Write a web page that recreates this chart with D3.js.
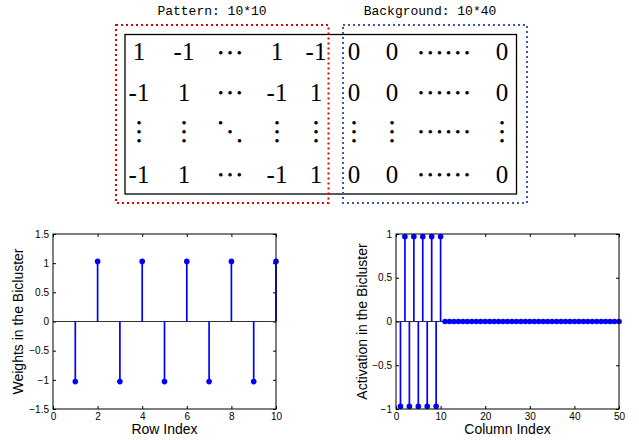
<!DOCTYPE html>
<html>
<head>
<meta charset="utf-8">
<script src="https://cdn.jsdelivr.net/npm/d3@7"></script>
<style>body{margin:0;background:#fff}</style>
</head>
<body>
<div id="chart"></div>
<script>
const width = 639, height = 440;

// top schematic: matrix entries ("h3"/"h6" = horizontal dots, "v" = vertical dots, "d" = diagonal dots)
const patternTitle = "Pattern: 10*10";
const backgroundTitle = "Background: 10*40";
const patternRows = [
  ["1", "-1", "h3", "1", "-1"],
  ["-1", "1", "h3", "-1", "1"],
  ["v", "v", "d", "v", "v"],
  ["-1", "1", "h3", "-1", "1"]
];
const backgroundRows = [
  ["0", "0", "h6", "0"],
  ["0", "0", "h6", "0"],
  ["v", "v", "h6", "v"],
  ["0", "0", "h6", "0"]
];

// bottom left: row weights
const rowWeights = [-1.03, 1.03, -1.03, 1.03, -1.03, 1.03, -1.03, 1.03, -1.03, 1.03];
const rowTicksX = [0, 2, 4, 6, 8, 10];
const rowTicksY = [-1.5, -1, -0.5, 0, 0.5, 1, 1.5];

// bottom right: column activations
const colActivation = [
  -0.97, 0.97, -0.97, 0.97, -0.97, 0.97, -0.97, 0.97, -0.97, 0.97,
  0, 0, 0, 0, 0, 0, 0, 0, 0, 0,
  0, 0, 0, 0, 0, 0, 0, 0, 0, 0,
  0, 0, 0, 0, 0, 0, 0, 0, 0, 0,
  0, 0, 0, 0, 0, 0, 0, 0, 0, 0
];
const colTicksX = [0, 10, 20, 30, 40, 50];
const colTicksY = [-1, -0.5, 0, 0.5, 1];

const svg = d3.select("#chart")
  .append("svg")
  .attr("width", width)
  .attr("height", height);

/* ---------- matrix schematic ---------- */
const mono = "'Liberation Mono', 'DejaVu Sans Mono', monospace";
const serif = "'Liberation Serif', 'Times New Roman', serif";

svg.append("text").attr("x", 212).attr("y", 15)
  .attr("text-anchor", "middle").attr("font-family", mono).attr("font-size", 13)
  .text(patternTitle);
svg.append("text").attr("x", 430).attr("y", 15)
  .attr("text-anchor", "middle").attr("font-family", mono).attr("font-size", 13)
  .text(backgroundTitle);

svg.append("rect").attr("x", 125).attr("y", 34.5).attr("width", 391.5).attr("height", 159.5)
  .attr("fill", "none").attr("stroke", "#000").attr("stroke-width", 1.3);
svg.append("rect").attr("x", 116).attr("y", 25).attr("width", 212.5).attr("height", 178)
  .attr("fill", "none").attr("stroke", "#e00000").attr("stroke-width", 2)
  .attr("stroke-dasharray", "2,3");
svg.append("rect").attr("x", 343).attr("y", 25).attr("width", 184).attr("height", 178)
  .attr("fill", "none").attr("stroke", "#3a5ba6").attr("stroke-width", 2)
  .attr("stroke-dasharray", "2,3");

const rowBase = [60, 100.5, 131.5, 182.5];   // baselines (row 3 = centre of dots)
const patternX = [139, 184, 230, 277, 316];
const backgroundX = [354, 392, 444, 502];
const mat = svg.append("g").attr("font-family", serif).attr("font-size", 25);

// one small round glyph per dot
function dots(pts) {
  const t = mat.append("text").attr("text-anchor", "middle")
    .attr("font-family", "'DejaVu Sans', sans-serif").attr("font-size", 4.6);
  pts.forEach(p => t.append("tspan").attr("x", p[0]).attr("y", p[1] + 1.7).text("\u25cf"));
}

function drawEntry(s, x, r) {
  const y = rowBase[r];
  if (s === "h3" || s === "h6") {
    const n = s === "h3" ? 3 : 6;
    const cy = r === 2 ? y : y - 8;
    dots(d3.range(n).map(k => [x + (k - (n - 1) / 2) * 9.2, cy]));
  } else if (s === "v") {
    dots([-1, 0, 1].map(k => [x, y + k * 9]));
  } else if (s === "d") {
    dots([-1, 0, 1].map(k => [x + k * 9.5, y + k * 9]));
  } else {
    mat.append("text").attr("x", x).attr("y", y).attr("text-anchor", "middle").text(s);
  }
}

patternRows.forEach((row, r) => row.forEach((s, c) => drawEntry(s, patternX[c], r)));
backgroundRows.forEach((row, r) => row.forEach((s, c) => drawEntry(s, backgroundX[c], r)));

/* ---------- stem plots ---------- */
const sans = "'Liberation Sans', Arial, Helvetica, sans-serif";
const fmt = d3.format("");

function stemPlot(opt) {
  const g = svg.append("g");
  const x = d3.scaleLinear().domain(opt.xDomain).range([opt.left, opt.right]);
  const y = d3.scaleLinear().domain(opt.yDomain).range([opt.bottom, opt.top]);

  const axes = [
    [d3.axisBottom(x).tickValues(opt.xTicks).tickFormat(fmt), opt.bottom, "x"],
    [d3.axisTop(x).tickValues(opt.xTicks).tickFormat(""), opt.top, "x"],
    [d3.axisLeft(y).tickValues(opt.yTicks).tickFormat(fmt), opt.left, "y"],
    [d3.axisRight(y).tickValues(opt.yTicks).tickFormat(""), opt.right, "y"]
  ];
  axes.forEach(([ax, pos, dir]) => {
    const a = g.append("g")
      .attr("transform", dir === "x" ? "translate(0," + pos + ")" : "translate(" + pos + ",0)")
      .call(ax.tickSizeInner(-3).tickSizeOuter(0).tickPadding(4));
    a.select(".domain").remove();
    a.attr("font-family", sans).attr("font-size", 10);
    a.selectAll("line").attr("stroke", "#000");
    a.selectAll("text").attr("fill", "#000");
  });

  // baseline
  g.append("line")
    .attr("x1", opt.left).attr("x2", opt.right)
    .attr("y1", y(0)).attr("y2", y(0))
    .attr("stroke", "#333").attr("stroke-width", 1.2);

  g.selectAll(".stem")
    .data(opt.values)
    .enter()
    .append("line")
    .attr("class", "stem")
    .attr("x1", (d, i) => x(i + 1)).attr("x2", (d, i) => x(i + 1))
    .attr("y1", y(0)).attr("y2", d => y(d))
    .attr("stroke", "#0000ff").attr("stroke-width", 1.7);

  g.selectAll(".mark")
    .data(opt.values)
    .enter()
    .append("circle")
    .attr("class", "mark")
    .attr("cx", (d, i) => x(i + 1))
    .attr("cy", d => y(d))
    .attr("r", 2.8)
    .attr("fill", "#0000ff");

  g.append("rect")
    .attr("x", opt.left).attr("y", opt.top)
    .attr("width", opt.right - opt.left).attr("height", opt.bottom - opt.top)
    .attr("fill", "none").attr("stroke", "#000").attr("stroke-width", 1);

  g.append("text")
    .attr("x", (opt.left + opt.right) / 2).attr("y", 434)
    .attr("text-anchor", "middle").attr("font-family", sans).attr("font-size", 14)
    .text(opt.xLabel);

  g.append("text")
    .attr("transform", "translate(" + opt.yLabelX + "," + (opt.top + opt.bottom) / 2 + ") rotate(-90)")
    .attr("text-anchor", "middle").attr("font-family", sans).attr("font-size", 14)
    .text(opt.yLabel);
}

stemPlot({
  left: 53, right: 276, top: 234, bottom: 409,
  xDomain: [0, 10], yDomain: [-1.5, 1.5],
  xTicks: rowTicksX, yTicks: rowTicksY,
  values: rowWeights,
  xLabel: "Row Index", yLabel: "Weights in the Bicluster", yLabelX: 23
});

stemPlot({
  left: 396, right: 619, top: 234, bottom: 409,
  xDomain: [0, 50], yDomain: [-1, 1],
  xTicks: colTicksX, yTicks: colTicksY,
  values: colActivation,
  xLabel: "Column Index", yLabel: "Activation in the Bicluster", yLabelX: 367
});
</script>
</body>
</html>
